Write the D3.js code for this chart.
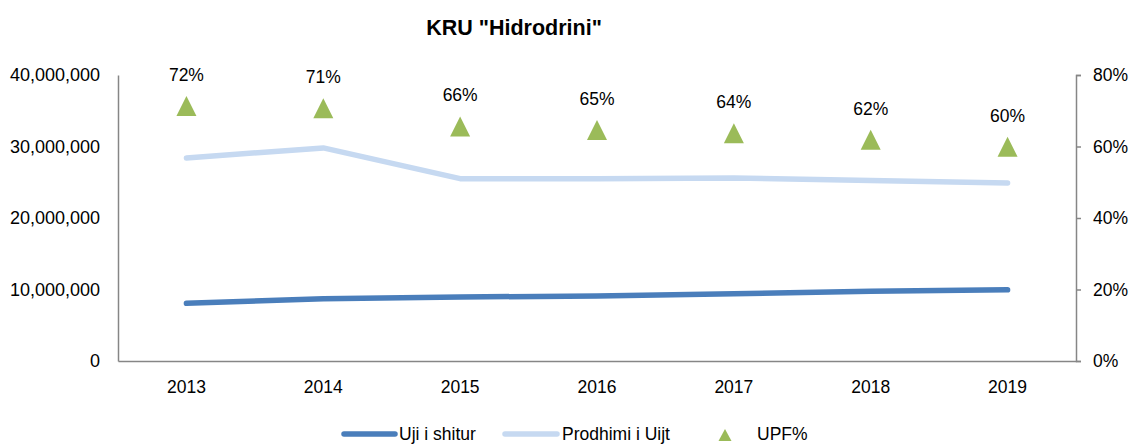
<!DOCTYPE html>
<html>
<head>
<meta charset="utf-8">
<script src="https://d3js.org/d3.v7.min.js"></script>
<style>
  body { margin: 0; background: #fff; }
  svg text { font-family: "Liberation Sans", Arial, sans-serif; fill: #000; }
</style>
</head>
<body>
<svg id="chart" width="1129" height="444"></svg>
<script>
// data
var years = ["2013", "2014", "2015", "2016", "2017", "2018", "2019"];
var ujiShitur = [8060000, 8700000, 8950000, 9100000, 9400000, 9750000, 9950000];
var prodhimi = [28400000, 29800000, 25500000, 25500000, 25600000, 25250000, 24900000];
var upf = [0.713, 0.707, 0.656, 0.646, 0.637, 0.619, 0.599];
var upfLabels = ["72%", "71%", "66%", "65%", "64%", "62%", "60%"];
var leftTicks = [0, 10000000, 20000000, 30000000, 40000000];
var rightTicks = [0, 0.2, 0.4, 0.6, 0.8];

var svg = d3.select("#chart");
// plot area edges ("top" is taken by window.top, so use other names)
var plotL = 118, plotR = 1076, plotT = 75, plotB = 361;

var x = d3.scaleBand().domain(years).range([plotL, plotR]);
var yL = d3.scaleLinear().domain([0, 40000000]).range([plotB, plotT]);
var yR = d3.scaleLinear().domain([0, 0.8]).range([plotB, plotT]);
var cx = function(d, i) { return x(years[i]) + x.bandwidth() / 2; };

// triangle marker, w wide and h tall, centred on its box
function triangle(w, h) {
  return "M0," + (-h / 2) + "L" + (w / 2) + "," + (h / 2) + "L" + (-w / 2) + "," + (h / 2) + "Z";
}

// title
svg.append("text").attr("x", 514).attr("y", 35)
  .attr("text-anchor", "middle").attr("font-size", 21.5).attr("font-weight", "bold")
  .text('KRU "Hidrodrini"');

// left axis (no tick marks)
var gL = svg.append("g").attr("transform", "translate(" + plotL + ",0)")
  .call(d3.axisLeft(yL).tickValues(leftTicks).tickSize(0).tickPadding(18)
    .tickFormat(d3.format(",")));
gL.select(".domain").attr("stroke", "#868686").attr("stroke-width", 1.5);
gL.selectAll("text").attr("font-size", 18);

// right axis
var gR = svg.append("g").attr("transform", "translate(" + plotR + ",0)")
  .call(d3.axisRight(yR).tickValues(rightTicks).tickSize(5).tickSizeOuter(5).tickPadding(12)
    .tickFormat(d3.format(".0%")));
gR.select(".domain").attr("stroke", "#868686").attr("stroke-width", 1.5);
gR.selectAll("line").attr("stroke", "#868686").attr("stroke-width", 1.5);
gR.selectAll("text").attr("font-size", 17.5);

// bottom axis
var gB = svg.append("g").attr("transform", "translate(0," + plotB + ")")
  .call(d3.axisBottom(x).tickSize(0).tickPadding(20));
gB.select(".domain").attr("stroke", "#868686").attr("stroke-width", 1.5);
gB.selectAll("text").attr("font-size", 17.5);

// lines
var line = d3.line().x(cx).y(function(d) { return yL(d); });
svg.append("path").datum(prodhimi).attr("d", line)
  .attr("fill", "none").attr("stroke", "#c6d9f1").attr("stroke-width", 5.5)
  .attr("stroke-linecap", "round").attr("stroke-linejoin", "round");
svg.append("path").datum(ujiShitur).attr("d", line)
  .attr("fill", "none").attr("stroke", "#4a7ebb").attr("stroke-width", 5.5)
  .attr("stroke-linecap", "round").attr("stroke-linejoin", "round");

// UPF markers
svg.selectAll(".upf").data(upf).enter().append("path")
  .attr("d", triangle(20, 20))
  .attr("transform", function(d, i) { return "translate(" + cx(d, i) + "," + yR(d) + ")"; })
  .attr("fill", "#9bbb59");
svg.selectAll(".upfLabel").data(upf).enter().append("text")
  .attr("x", cx).attr("y", function(d) { return yR(d) - 25; })
  .attr("text-anchor", "middle").attr("font-size", 17.5)
  .text(function(d, i) { return upfLabels[i]; });

// legend (kept just inside the bottom edge)
var lg = svg.append("g");
lg.append("line").attr("x1", 344).attr("x2", 395).attr("y1", 434).attr("y2", 434)
  .attr("stroke", "#4a7ebb").attr("stroke-width", 5.5).attr("stroke-linecap", "round");
lg.append("text").attr("x", 399).attr("y", 440).attr("font-size", 17.5).text("Uji i shitur");
lg.append("line").attr("x1", 505).attr("x2", 557).attr("y1", 434).attr("y2", 434)
  .attr("stroke", "#c6d9f1").attr("stroke-width", 5.5).attr("stroke-linecap", "round");
lg.append("text").attr("x", 562).attr("y", 440).attr("font-size", 17.5).text("Prodhimi i Uijt");
lg.append("path").attr("d", triangle(13, 12))
  .attr("transform", "translate(725,435)").attr("fill", "#9bbb59");
lg.append("text").attr("x", 757).attr("y", 440).attr("font-size", 17.5).text("UPF%");
</script>
</body>
</html>
